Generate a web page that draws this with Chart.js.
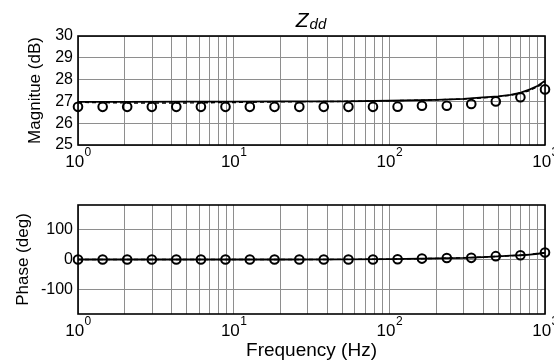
<!DOCTYPE html>
<html>
<head>
<meta charset="utf-8">
<title>Zdd</title>
<script src="https://cdn.jsdelivr.net/npm/chart.js@4.4.0/dist/chart.umd.min.js"></script>
<style>
    html, body { margin: 0; padding: 0; background: #fff; overflow: hidden; }
    #wrap { position: relative; width: 554px; height: 363px; overflow: hidden; }
    .panel { position: absolute; left: 0; }
    #magPanel { top: 0; }
    #phasePanel { top: 190px; }
</style>
</head>
<body>
<div id="wrap">
    <div class="panel" id="magPanel"><canvas id="magChart" width="570" height="190"></canvas></div>
    <div class="panel" id="phasePanel"><canvas id="phaseChart" width="570" height="173"></canvas></div>
</div>
<script>
// measured points (circles)
const freqHz = [1, 1.44, 2.07, 2.98, 4.28, 6.16, 8.86, 12.7, 18.3, 26.4, 37.9, 54.6, 78.5, 113, 162, 234, 336, 483, 695, 1000];
const magMeasured = [26.75, 26.75, 26.75, 26.75, 26.75, 26.75, 26.75, 26.75, 26.75, 26.75, 26.75, 26.75, 26.75, 26.76, 26.8, 26.8, 26.88, 27.0, 27.19, 27.55];
const phaseMeasured = [0, 0, 0, 0, 0, 0, 0, 0, 0, 0, 0, 0, 0, 1, 3, 5, 5.5, 11, 14, 23];

// model curves (solid) and fitted curves (dashed)
const modelFreq = [1, 2, 5, 10, 20, 50, 100, 200, 300, 400, 500, 600, 700, 800, 900, 1000];
const magModel = [26.98, 26.98, 26.99, 26.99, 27.0, 27.0, 27.03, 27.07, 27.12, 27.18, 27.23, 27.3, 27.4, 27.55, 27.72, 27.95];
const magFit = [26.96, 26.93, 26.93, 26.95, 26.98, 27.0, 27.03, 27.07, 27.11, 27.16, 27.22, 27.28, 27.37, 27.5, 27.68, 27.88];
const phaseModel = [0, 0, 0, 0, 0, 0.3, 1, 4, 5.5, 8, 10.5, 12.5, 14, 16, 19, 22];
const phaseFit = [0, 0, 0, 0, 0, 0.3, 1, 3.5, 5.5, 8, 10.5, 12.5, 14.5, 17, 20, 23];

// axis ticks
const xDecades = [1, 10, 100, 1000];
const xExponents = ['0', '1', '2', '3'];
const magTicks = [25, 26, 27, 28, 29, 30];
const phaseTicks = [-100, 0, 100];

const fontFamily = "'Liberation Sans', Arial, Helvetica, sans-serif";
const gridColor = '#8e8e8e';

Chart.defaults.font.family = fontFamily;
Chart.defaults.color = '#000';

function toPoints(xs, ys) {
    return xs.map((x, i) => ({ x: x, y: ys[i] }));
}

// grid lines at 1..9 of every decade
function logGridTicks() {
    const vals = [];
    xDecades.forEach((d, i) => {
        if (i === xDecades.length - 1) {
            vals.push(d);
            return;
        }
        for (let k = 1; k < 10; k++) vals.push(d * k);
    });
    return vals.map(v => ({ value: v }));
}

// box around the plot area
const frameBox = {
    id: 'frameBox',
    beforeDatasetsDraw(chart) {
        const a = chart.chartArea;
        const ctx = chart.ctx;
        ctx.save();
        ctx.strokeStyle = '#000';
        ctx.lineWidth = 1.6;
        ctx.strokeRect(a.left, a.top, a.right - a.left, a.bottom - a.top);
        ctx.restore();
    }
};

// 10^n labels under the x axis
const decadeLabels = {
    id: 'decadeLabels',
    afterDraw(chart) {
        const ctx = chart.ctx;
        const xs = chart.scales.x;
        const bottom = chart.chartArea.bottom;
        ctx.save();
        ctx.fillStyle = '#000';
        ctx.textBaseline = 'alphabetic';
        ctx.textAlign = 'left';
        xDecades.forEach((d, i) => {
            const px = xs.getPixelForValue(d);
            ctx.font = '17px ' + fontFamily;
            const w1 = ctx.measureText('10').width;
            ctx.font = '12px ' + fontFamily;
            const w2 = ctx.measureText(xExponents[i]).width;
            const start = px - (w1 + w2) / 2;
            ctx.font = '17px ' + fontFamily;
            ctx.fillText('10', start, bottom + 22);
            ctx.font = '12px ' + fontFamily;
            ctx.fillText(xExponents[i], start + w1 + 0.5, bottom + 11);
        });
        ctx.restore();
    }
};

// italic Z with subscript dd
const zddTitle = {
    id: 'zddTitle',
    afterDraw(chart) {
        const ctx = chart.ctx;
        const a = chart.chartArea;
        ctx.save();
        ctx.fillStyle = '#000';
        ctx.textBaseline = 'alphabetic';
        ctx.font = 'italic 21px ' + fontFamily;
        const wz = ctx.measureText('Z').width;
        ctx.font = 'italic 15px ' + fontFamily;
        const wd = ctx.measureText('dd').width;
        const start = (a.left + a.right) / 2 - 1 - (wz + wd) / 2;
        ctx.font = 'italic 21px ' + fontFamily;
        ctx.fillText('Z', start, 27);
        ctx.font = 'italic 15px ' + fontFamily;
        ctx.fillText('dd', start + wz + 1, 29);
        ctx.restore();
    }
};

function buildOptions(cfg) {
    return {
        responsive: false,
        animation: false,
        devicePixelRatio: 1,
        layout: { padding: cfg.padding },
        plugins: {
            legend: { display: false },
            tooltip: { enabled: false }
        },
        scales: {
            x: {
                type: 'logarithmic',
                min: 1,
                max: 1000,
                afterBuildTicks: s => { s.ticks = logGridTicks(); },
                afterFit: s => { s.height = cfg.xHeight; },
                ticks: { display: false, autoSkip: false },
                grid: { color: gridColor, lineWidth: 1, drawTicks: false },
                border: { display: false },
                title: {
                    display: !!cfg.xTitle,
                    text: cfg.xTitle || '',
                    color: '#000',
                    font: { size: 19 },
                    padding: { top: 0, bottom: 1 }
                }
            },
            y: {
                type: 'linear',
                min: cfg.yMin,
                max: cfg.yMax,
                afterBuildTicks: s => { s.ticks = cfg.yTicks.map(v => ({ value: v })); },
                afterFit: s => { s.width = cfg.yWidth; },
                ticks: { color: '#000', font: { size: 16 }, padding: 5, autoSkip: false },
                grid: { color: gridColor, lineWidth: 1, drawTicks: false },
                border: { display: false },
                title: {
                    display: true,
                    text: cfg.yTitle,
                    color: '#000',
                    font: { size: 17 },
                    padding: { top: 4, bottom: 4 }
                }
            }
        }
    };
}

function lineSet(xs, ys, dashed) {
    return {
        data: toPoints(xs, ys),
        showLine: true,
        borderColor: '#000',
        borderWidth: dashed ? 1.4 : 1.8,
        borderDash: dashed ? [4, 3] : [],
        pointRadius: 0,
        tension: 0,
        clip: false
    };
}

function markerSet(xs, ys) {
    return {
        data: toPoints(xs, ys),
        showLine: false,
        pointStyle: 'circle',
        pointRadius: 4.3,
        pointBorderWidth: 2,
        pointBorderColor: '#000',
        pointBackgroundColor: 'rgba(255,255,255,0)',
        clip: false
    };
}

// magnitude panel
new Chart(document.getElementById('magChart'), {
    type: 'scatter',
    data: {
        datasets: [
            lineSet(modelFreq, magModel, false),
            lineSet(modelFreq, magFit, true),
            markerSet(freqHz, magMeasured)
        ]
    },
    options: buildOptions({
        padding: { top: 36, left: 21, right: 25, bottom: 0 },
        yWidth: 57,
        xHeight: 45,
        yMin: 25,
        yMax: 30,
        yTicks: magTicks,
        yTitle: 'Magnitue (dB)'
    }),
    plugins: [frameBox, decadeLabels, zddTitle]
});

// phase panel
new Chart(document.getElementById('phaseChart'), {
    type: 'scatter',
    data: {
        datasets: [
            lineSet(modelFreq, phaseModel, false),
            lineSet(modelFreq, phaseFit, true),
            markerSet(freqHz, phaseMeasured)
        ]
    },
    options: buildOptions({
        padding: { top: 15, left: 9, right: 25, bottom: 0 },
        yWidth: 69,
        xHeight: 49,
        yMin: -180,
        yMax: 180,
        yTicks: phaseTicks,
        yTitle: 'Phase (deg)',
        xTitle: 'Frequency (Hz)'
    }),
    plugins: [frameBox, decadeLabels]
});
</script>
</body>
</html>
